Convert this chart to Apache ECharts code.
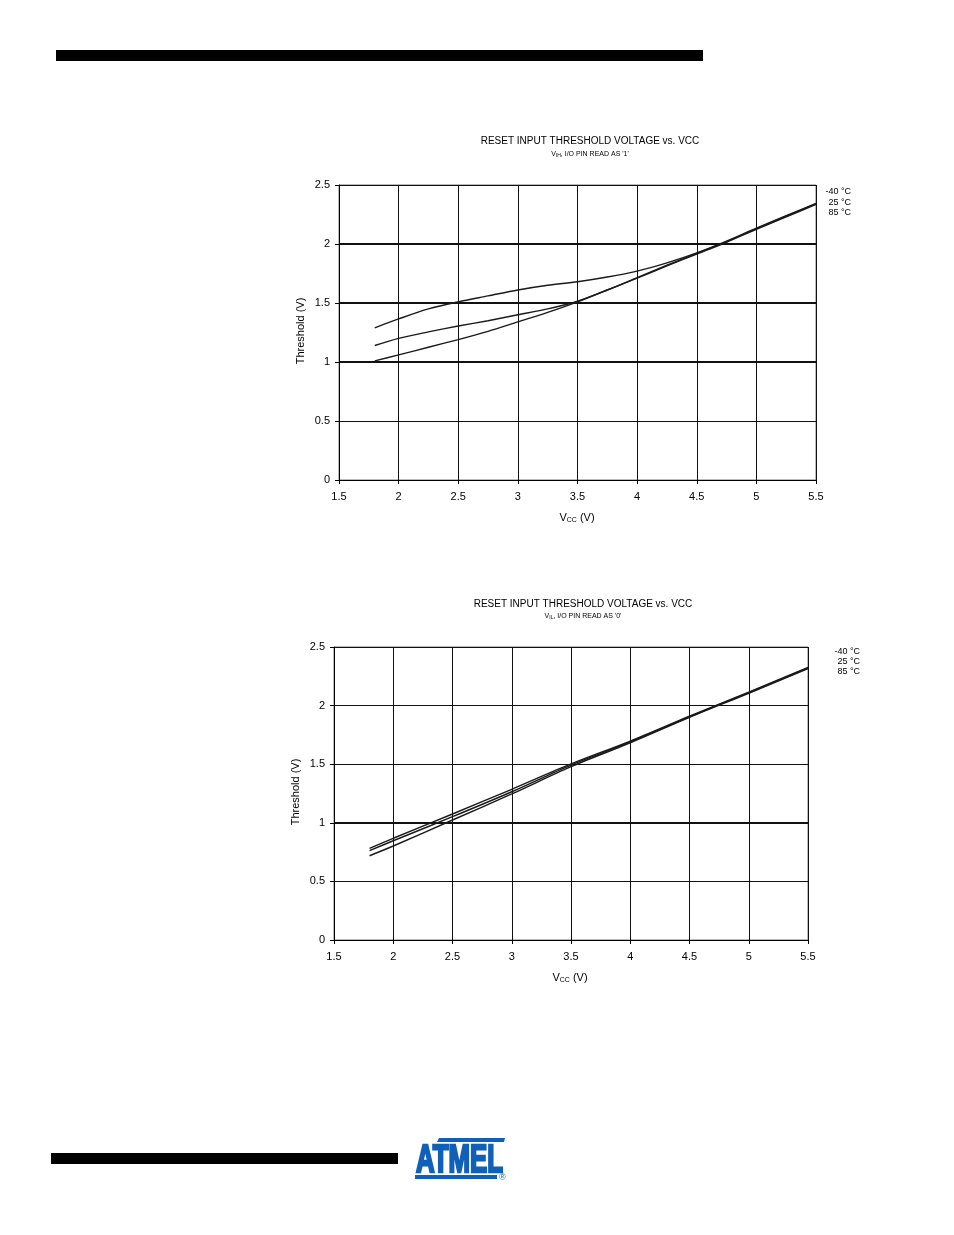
<!DOCTYPE html>
<html><head><meta charset="utf-8">
<script src="https://cdn.jsdelivr.net/npm/echarts@6/dist/echarts.min.js"></script>
<style>html,body{margin:0;padding:0;background:#fff}#c{width:954px;height:1235px}</style>
</head><body><div id="c"></div>
<script>
// ---- data ----
const xTicks = [1.5, 2, 2.5, 3, 3.5, 4, 4.5, 5, 5.5];
const yTicks = [0, 0.5, 1, 1.5, 2, 2.5];
const tempLabels = ['-40 °C', '25 °C', '85 °C'];

// Chart 1: VIH
const vcc1 = [1.8, 2.0, 2.25, 2.5, 2.75, 3.0, 3.25, 3.5, 3.75, 4.0, 4.25, 4.5, 4.75, 5.0, 5.25, 5.5];
const vih_m40 = [1.29, 1.365, 1.45, 1.51, 1.56, 1.61, 1.65, 1.68, 1.72, 1.77, 1.84, 1.925, 2.025, 2.135, 2.24, 2.345];
const vih_25  = [1.14, 1.20, 1.255, 1.305, 1.35, 1.40, 1.45, 1.515, 1.61, 1.715, 1.82, 1.92, 2.02, 2.13, 2.235, 2.34];
const vih_85  = [1.01, 1.06, 1.125, 1.19, 1.26, 1.34, 1.42, 1.51, 1.61, 1.71, 1.815, 1.915, 2.015, 2.125, 2.23, 2.335];

// Chart 2: VIL
const vcc2 = [1.8, 2.0, 2.5, 3.0, 3.5, 4.0, 4.5, 5.0, 5.5];
const vil_m40 = [0.782, 0.868, 1.075, 1.286, 1.502, 1.697, 1.91, 2.115, 2.325];
const vil_25  = [0.762, 0.847, 1.052, 1.265, 1.493, 1.69, 1.905, 2.11, 2.32];
const vil_85  = [0.719, 0.802, 1.024, 1.246, 1.479, 1.683, 1.90, 2.105, 2.315];

const pairs = (xs, ys) => xs.map((x, i) => [x, ys[i]]);

const FONT = 'Liberation Sans, Arial, sans-serif';
const chart = echarts.init(document.getElementById('c'), null, {renderer: 'canvas'});

function xAxisCfg(gi) {
  return {
    type: 'value', gridIndex: gi, min: xTicks[0], max: xTicks[xTicks.length - 1], interval: 0.5,
    axisLine: {show: true, lineStyle: {color: '#000', width: 1}},
    axisTick: {show: true, length: 4, lineStyle: {color: '#000'}},
    axisLabel: {color: '#000', fontSize: 11, fontFamily: FONT, margin: 11},
    splitLine: {show: true, lineStyle: {color: '#111', width: 1}}
  };
}
function yAxisCfg(gi) {
  return {
    type: 'value', gridIndex: gi, min: yTicks[0], max: yTicks[yTicks.length - 1], interval: 0.5,
    axisLine: {show: true, lineStyle: {color: '#000', width: 1}},
    axisTick: {show: true, length: 4, lineStyle: {color: '#000'}},
    axisLabel: {color: '#000', fontSize: 11, fontFamily: FONT, margin: 9},
    splitLine: {show: true, lineStyle: {color: '#111', width: 1}}
  };
}
function lineSeries(gi, xs, ys, thickLines) {
  const s = {
    type: 'line', xAxisIndex: gi, yAxisIndex: gi, data: pairs(xs, ys),
    showSymbol: false, smooth: 0.3, lineStyle: {color: '#1a1a1a', width: 1.4},
    silent: true, z: 5
  };
  if (thickLines) {
    s.markLine = {
      silent: true, symbol: 'none', label: {show: false},
      lineStyle: {color: '#111', width: 2, type: 'solid'},
      data: thickLines.map(v => ({yAxis: v}))
    };
  }
  return s;
}

chart.setOption({
  animation: false,
  grid: [
    {left: 339, top: 185, width: 477, height: 295, show: true, borderColor: '#777', borderWidth: 1},
    {left: 334, top: 647, width: 474, height: 293, show: true, borderColor: '#777', borderWidth: 1}
  ],
  xAxis: [xAxisCfg(0), xAxisCfg(1)],
  yAxis: [yAxisCfg(0), yAxisCfg(1)],
  series: [
    lineSeries(0, vcc1, vih_m40, [1, 1.5, 2]),
    lineSeries(0, vcc1, vih_25),
    lineSeries(0, vcc1, vih_85),
    lineSeries(1, vcc2, vil_m40, [1]),
    lineSeries(1, vcc2, vil_25),
    lineSeries(1, vcc2, vil_85)
  ],
  graphic: [
    // page bars
    {type: 'rect', shape: {x: 56, y: 50, width: 647, height: 11}, style: {fill: '#000'}},
    {type: 'rect', shape: {x: 51, y: 1153, width: 347, height: 11}, style: {fill: '#000'}},
    // chart 1 titles
    {type: 'text', x: 590, y: 136, style: {text: 'RESET INPUT THRESHOLD VOLTAGE vs. VCC', font: '10px ' + FONT, fill: '#000', align: 'center'}},
    {type: 'text', x: 590, y: 150, style: {text: '{a|V}{s|IH}{a|, I/O PIN READ AS \'1\'}', rich: {a: {fontSize: 7, fontFamily: FONT, color: '#000'}, s: {fontSize: 5, fontFamily: FONT, color: '#000', padding: [3, 0, 0, 0]}}, align: 'center'}},
    // chart 1 axis names
    {type: 'text', x: 301, y: 331, rotation: Math.PI / 2, style: {text: 'Threshold (V)', font: '11px ' + FONT, fill: '#000', align: 'center', verticalAlign: 'middle'}},
    {type: 'text', x: 577, y: 512, style: {text: '{a|V}{s|CC}{a| (V)}', rich: {a: {fontSize: 11, fontFamily: FONT, color: '#000'}, s: {fontSize: 7, fontFamily: FONT, color: '#000', padding: [5, 0, 0, 0]}}, align: 'center'}},
    // chart 1 legend
    {type: 'text', x: 851, y: 187, style: {text: tempLabels[0], font: '9px ' + FONT, fill: '#000', align: 'right'}},
    {type: 'text', x: 851, y: 198, style: {text: tempLabels[1], font: '9px ' + FONT, fill: '#000', align: 'right'}},
    {type: 'text', x: 851, y: 208, style: {text: tempLabels[2], font: '9px ' + FONT, fill: '#000', align: 'right'}},
    // chart 2 titles
    {type: 'text', x: 583, y: 599, style: {text: 'RESET INPUT THRESHOLD VOLTAGE vs. VCC', font: '10px ' + FONT, fill: '#000', align: 'center'}},
    {type: 'text', x: 583, y: 612, style: {text: '{a|V}{s|IL}{a|, I/O PIN READ AS \'0\'}', rich: {a: {fontSize: 7, fontFamily: FONT, color: '#000'}, s: {fontSize: 5, fontFamily: FONT, color: '#000', padding: [3, 0, 0, 0]}}, align: 'center'}},
    // chart 2 axis names
    {type: 'text', x: 296, y: 792, rotation: Math.PI / 2, style: {text: 'Threshold (V)', font: '11px ' + FONT, fill: '#000', align: 'center', verticalAlign: 'middle'}},
    {type: 'text', x: 570, y: 972, style: {text: '{a|V}{s|CC}{a| (V)}', rich: {a: {fontSize: 11, fontFamily: FONT, color: '#000'}, s: {fontSize: 7, fontFamily: FONT, color: '#000', padding: [5, 0, 0, 0]}}, align: 'center'}},
    // chart 2 legend
    {type: 'text', x: 860, y: 647, style: {text: tempLabels[0], font: '9px ' + FONT, fill: '#000', align: 'right'}},
    {type: 'text', x: 860, y: 657, style: {text: tempLabels[1], font: '9px ' + FONT, fill: '#000', align: 'right'}},
    {type: 'text', x: 860, y: 667, style: {text: tempLabels[2], font: '9px ' + FONT, fill: '#000', align: 'right'}},
    // Atmel logo
    {type: 'polygon', shape: {points: [[439, 1138], [505, 1138], [504, 1142], [437, 1142]]}, style: {fill: '#1160b8'}},
    {type: 'text', x: 416, y: 1181, scaleX: 0.68, style: {text: 'ATMEL', font: 'bold 38px ' + FONT, fill: '#1160b8', stroke: '#1160b8', lineWidth: 2.5, verticalAlign: 'bottom'}},
    {type: 'rect', shape: {x: 415, y: 1175, width: 82, height: 4}, style: {fill: '#1160b8'}},
    {type: 'text', x: 499, y: 1173, style: {text: '®', font: '9px ' + FONT, fill: '#1160b8'}}
  ]
});
</script></body></html>
